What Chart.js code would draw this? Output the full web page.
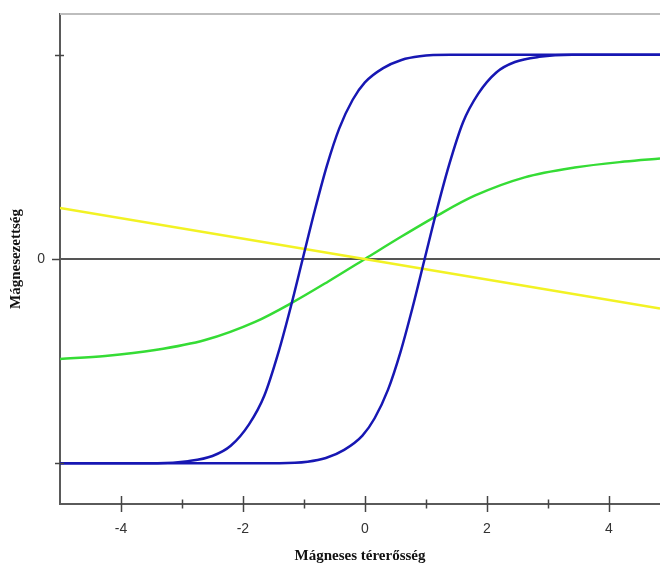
<!DOCTYPE html>
<html>
<head>
<meta charset="utf-8">
<script src="https://cdn.jsdelivr.net/npm/chart.js@4.4.1/dist/chart.umd.min.js"></script>
<style>
  html, body { margin: 0; padding: 0; background: #fff; }
  canvas { display: block; }
</style>
</head>
<body>
<canvas id="chart" width="660" height="565"></canvas>
<script>
// values

const xTickValues = [-4, -3, -2, -1, 0, 1, 2, 3, 4];
const xTickLabels = ['-4', '', '-2', '', '0', '', '2', '', '4'];
const yTickValues = [-1, 0, 1];
const yTickLabels = ['', '0', ''];

// hysteresis loop, descending branch (left curve)
const descX = [-5, -3.4, -2.9, -2.5, -2.2, -1.9, -1.65, -1.42, -1.22, -1.02, -0.82, -0.62, -0.42, -0.2, 0.0, 0.3, 0.6, 0.9, 1.4, 4.84];
const descY = [-1, -1, -0.99, -0.965, -0.915, -0.81, -0.67, -0.46, -0.24, 0, 0.24, 0.46, 0.64, 0.78, 0.865, 0.935, 0.975, 0.993, 1, 1];

// hysteresis loop, ascending branch (right curve)
const ascX = [-5, -1.4, -0.94, -0.64, -0.34, -0.04, 0.16, 0.38, 0.58, 0.78, 0.98, 1.18, 1.38, 1.61, 1.86, 2.16, 2.46, 2.86, 3.4, 4.84];
const ascY = [-1, -1, -0.993, -0.975, -0.935, -0.865, -0.78, -0.64, -0.46, -0.24, 0, 0.24, 0.46, 0.67, 0.81, 0.915, 0.965, 0.99, 1, 1];

// paramagnetic curve (green)
const paraX = [-5, -4.26, -3.44, -2.62, -1.8, -1.2, -0.6, 0, 0.6, 1.2, 1.8, 2.62, 3.44, 4.26, 4.84];
const paraY = [-0.49, -0.475, -0.446, -0.397, -0.308, -0.215, -0.11, 0, 0.11, 0.215, 0.31, 0.4, 0.448, 0.477, 0.492];

// diamagnetic line (yellow)
const diaX = [-5, 4.84];
const diaY = [0.25, -0.242];

const pts = (xs, ys) => xs.map((x, i) => ({ x: x, y: ys[i] }));

const axisMarks = {
  id: 'axisMarks',
  afterDraw(chart) {
    const { ctx, chartArea, scales } = chart;
    ctx.save();
    // light frame line on top
    ctx.strokeStyle = '#bdbdbd';
    ctx.lineWidth = 2;
    ctx.beginPath();
    ctx.moveTo(chartArea.left, chartArea.top);
    ctx.lineTo(chartArea.right, chartArea.top);
    ctx.stroke();

    ctx.strokeStyle = '#444';
    ctx.lineWidth = 1.5;
    const yb = chartArea.bottom;
    xTickValues.forEach((v, i) => {
      const px = Math.round(scales.x.getPixelForValue(v)) + 0.5;
      const len = xTickLabels[i] !== '' ? 8 : 4.5;
      ctx.beginPath();
      ctx.moveTo(px, yb - len);
      ctx.lineTo(px, yb + len);
      ctx.stroke();
    });
    const xl = chartArea.left;
    yTickValues.forEach((v, i) => {
      const py = Math.round(scales.y.getPixelForValue(v)) + 0.5;
      ctx.beginPath();
      ctx.moveTo(xl - (yTickLabels[i] !== '' ? 8 : 5), py);
      ctx.lineTo(xl + (yTickLabels[i] !== '' ? 0 : 4), py);
      ctx.stroke();
    });
    ctx.restore();
  }
};

new Chart(document.getElementById('chart').getContext('2d'), {
  type: 'line',
  data: {
    datasets: [
      { label: 'desc', data: pts(descX, descY), borderColor: '#1717b3', borderWidth: 2.5, order: 0 },
      { label: 'asc', data: pts(ascX, ascY), borderColor: '#1717b3', borderWidth: 2.5, order: 0 },
      { label: 'dia', data: pts(diaX, diaY), borderColor: '#f2f224', borderWidth: 2.5, order: 1 },
      { label: 'para', data: pts(paraX, paraY), borderColor: '#35dc35', borderWidth: 2.5, order: 2 },
    ],
  },
  options: {
    responsive: false,
    devicePixelRatio: 1,
    animation: false,
    layout: { padding: { top: 14, right: 0, left: 0, bottom: 0 } },
    elements: {
      point: { radius: 0 },
      line: { cubicInterpolationMode: 'monotone', fill: false },
    },
    plugins: { legend: { display: false }, tooltip: { enabled: false } },
    scales: {
      x: {
        type: 'linear',
        min: -5,
        max: 4.84,
        afterFit: (s) => { s.height = 61; s.paddingLeft = 0; s.paddingRight = 0; },
        afterBuildTicks: (s) => { s.ticks = xTickValues.map((v) => ({ value: v })); },
        ticks: {
          autoSkip: false,
          maxRotation: 0,
          padding: 17,
          color: '#333',
          font: { family: '"Liberation Sans", Arial, sans-serif', size: 14 },
          callback: (v, i) => xTickLabels[i],
        },
        grid: { display: false, drawTicks: false },
        border: { display: true, color: '#5a5a5a', width: 2 },
        title: {
          display: true,
          text: 'Mágneses térerősség',
          color: '#111',
          font: { family: '"Liberation Serif", "Times New Roman", serif', size: 15, weight: 'bold' },
          padding: { top: 0, bottom: 0 },
        },
      },
      y: {
        type: 'linear',
        min: -1.2,
        max: 1.2,
        afterFit: (s) => { s.width = 60; s.paddingTop = 0; s.paddingBottom = 0; },
        afterBuildTicks: (s) => { s.ticks = yTickValues.map((v) => ({ value: v })); },
        ticks: {
          autoSkip: false,
          padding: 15,
          color: '#333',
          font: { family: '"Liberation Sans", Arial, sans-serif', size: 14 },
          callback: (v, i) => yTickLabels[i],
        },
        grid: {
          drawTicks: false,
          drawOnChartArea: true,
          lineWidth: 2,
          color: (c) => (c.tick && c.tick.value === 0 ? '#555' : 'rgba(0,0,0,0)'),
        },
        border: { display: true, color: '#5a5a5a', width: 2 },
        title: {
          display: true,
          text: 'Mágnesezettség',
          color: '#111',
          font: { family: '"Liberation Serif", "Times New Roman", serif', size: 15, weight: 'bold' },
          padding: { top: 7, bottom: 0 },
        },
      },
    },
  },
  plugins: [axisMarks],
});
</script>
</body>
</html>
